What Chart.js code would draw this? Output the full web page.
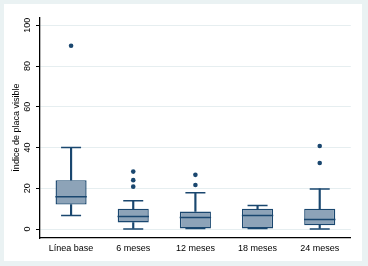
<!DOCTYPE html>
<html>
<head>
<meta charset="utf-8">
<script src="https://cdn.jsdelivr.net/npm/chart.js@4/dist/chart.umd.min.js"></script>
<style>
  html, body { margin: 0; padding: 0; background: #EAF2F3; }
  #wrap { width: 368px; height: 266px; }
</style>
</head>
<body>
<div id="wrap"><canvas id="c" width="368" height="266"></canvas></div>
<script>
// ---- data ----
const categories   = ['Línea base', '6 meses', '12 meses', '18 meses', '24 meses'];
const lowerWhisker = [6.6, 0.0, 0.3, 0.3, 0.0];
const q1           = [12.0, 3.2, 0.3, 0.3, 1.8];
const median       = [15.8, 6.1, 5.7, 6.6, 4.7];
const q3           = [24.0, 10.0, 8.6, 10.0, 10.0];
const upperWhisker = [40.0, 13.9, 17.8, 11.5, 19.7];
const outliers     = [[90], [28.2, 24.0, 20.8], [26.6, 21.6], [], [40.8, 32.4]];
const yTicks       = [0, 20, 40, 60, 80, 100];
const yTitle       = 'Índice de placa visible';

// ---- styles ----
const NAVY = '#1A476F';
const BOXFILL = '#8DA3B8';
const FONT = '"Liberation Sans", Arial, sans-serif';

const bgPlugin = {
  id: 'bg',
  beforeDraw(chart) {
    const ctx = chart.ctx;
    ctx.save();
    ctx.fillStyle = '#EAF2F3';
    ctx.fillRect(0, 0, chart.width, chart.height);
    ctx.fillStyle = '#FFFFFF';
    ctx.fillRect(4, 4, 358, 257);
    ctx.restore();
  }
};

const outlierPts = [];
categories.forEach((c, i) => outliers[i].forEach(v => outlierPts.push({ x: c, y: v })));

new Chart(document.getElementById('c'), {
  type: 'bar',
  data: {
    labels: categories,
    datasets: [
      { // box
        type: 'bar',
        data: categories.map((c, i) => [q1[i], q3[i]]),
        backgroundColor: BOXFILL, borderColor: NAVY, borderWidth: 1.4,
        borderSkipped: false, grouped: false,
        barPercentage: 0.5, categoryPercentage: 1, order: 5
      },
      { // upper whisker stem
        type: 'bar',
        data: categories.map((c, i) => [q3[i], upperWhisker[i]]),
        backgroundColor: NAVY, borderWidth: 0, grouped: false,
        barThickness: 1.5, order: 6
      },
      { // lower whisker stem
        type: 'bar',
        data: categories.map((c, i) => [lowerWhisker[i], q1[i]]),
        backgroundColor: NAVY, borderWidth: 0, grouped: false,
        barThickness: 1.5, order: 6
      },
      { // median
        type: 'line',
        data: categories.map((c, i) => ({ x: c, y: median[i] })),
        showLine: false, pointStyle: 'line', pointRadius: 15.7,
        pointBorderColor: NAVY, pointBorderWidth: 1.5, order: 1
      },
      { // upper caps
        type: 'line',
        data: categories.map((c, i) => ({ x: c, y: upperWhisker[i] })),
        showLine: false, pointStyle: 'line', pointRadius: 10,
        pointBorderColor: NAVY, pointBorderWidth: 1.5, order: 2
      },
      { // lower caps
        type: 'line',
        data: categories.map((c, i) => ({ x: c, y: lowerWhisker[i] })),
        showLine: false, pointStyle: 'line', pointRadius: 10,
        pointBorderColor: NAVY, pointBorderWidth: 1.5, order: 7
      },
      { // outliers
        type: 'line',
        data: outlierPts,
        showLine: false, pointStyle: 'circle', pointRadius: 2.3,
        pointBackgroundColor: NAVY, pointBorderColor: NAVY, pointBorderWidth: 0, order: 0
      }
    ]
  },
  options: {
    responsive: false,
    devicePixelRatio: 1,
    animation: false,
    layout: { padding: { left: 8, right: 14, top: 14, bottom: 0 } },
    plugins: { legend: { display: false }, tooltip: { enabled: false } },
    scales: {
      x: {
        offset: true,
        grid: { display: true, drawOnChartArea: false, drawTicks: false, color: 'rgba(0,0,0,0)' },
        border: { display: true, color: '#000', width: 1.3 },
        ticks: { padding: 5, color: '#000', font: { size: 9, family: FONT }, maxRotation: 0 },
        afterFit: s => { s.height = 28; }
      },
      y: {
        min: -4.4, max: 104,
        afterBuildTicks: s => { s.ticks = yTicks.map(v => ({ value: v })); },
        ticks: { minRotation: 90, maxRotation: 90, crossAlign: 'center', padding: 0.5,
                 color: '#000', font: { size: 9, family: FONT } },
        grid: { color: '#E6EEF0', lineWidth: 1, drawTicks: true, tickLength: 4, tickColor: '#000', tickWidth: 1 },
        border: { display: true, color: '#000', width: 1.3 },
        title: { display: true, text: yTitle, color: '#000', font: { size: 9, family: FONT },
                 padding: { top: 3.6, bottom: 0 } },
        afterFit: s => { s.width = 32; }
      }
    }
  },
  plugins: [bgPlugin]
});
</script>
</body>
</html>
